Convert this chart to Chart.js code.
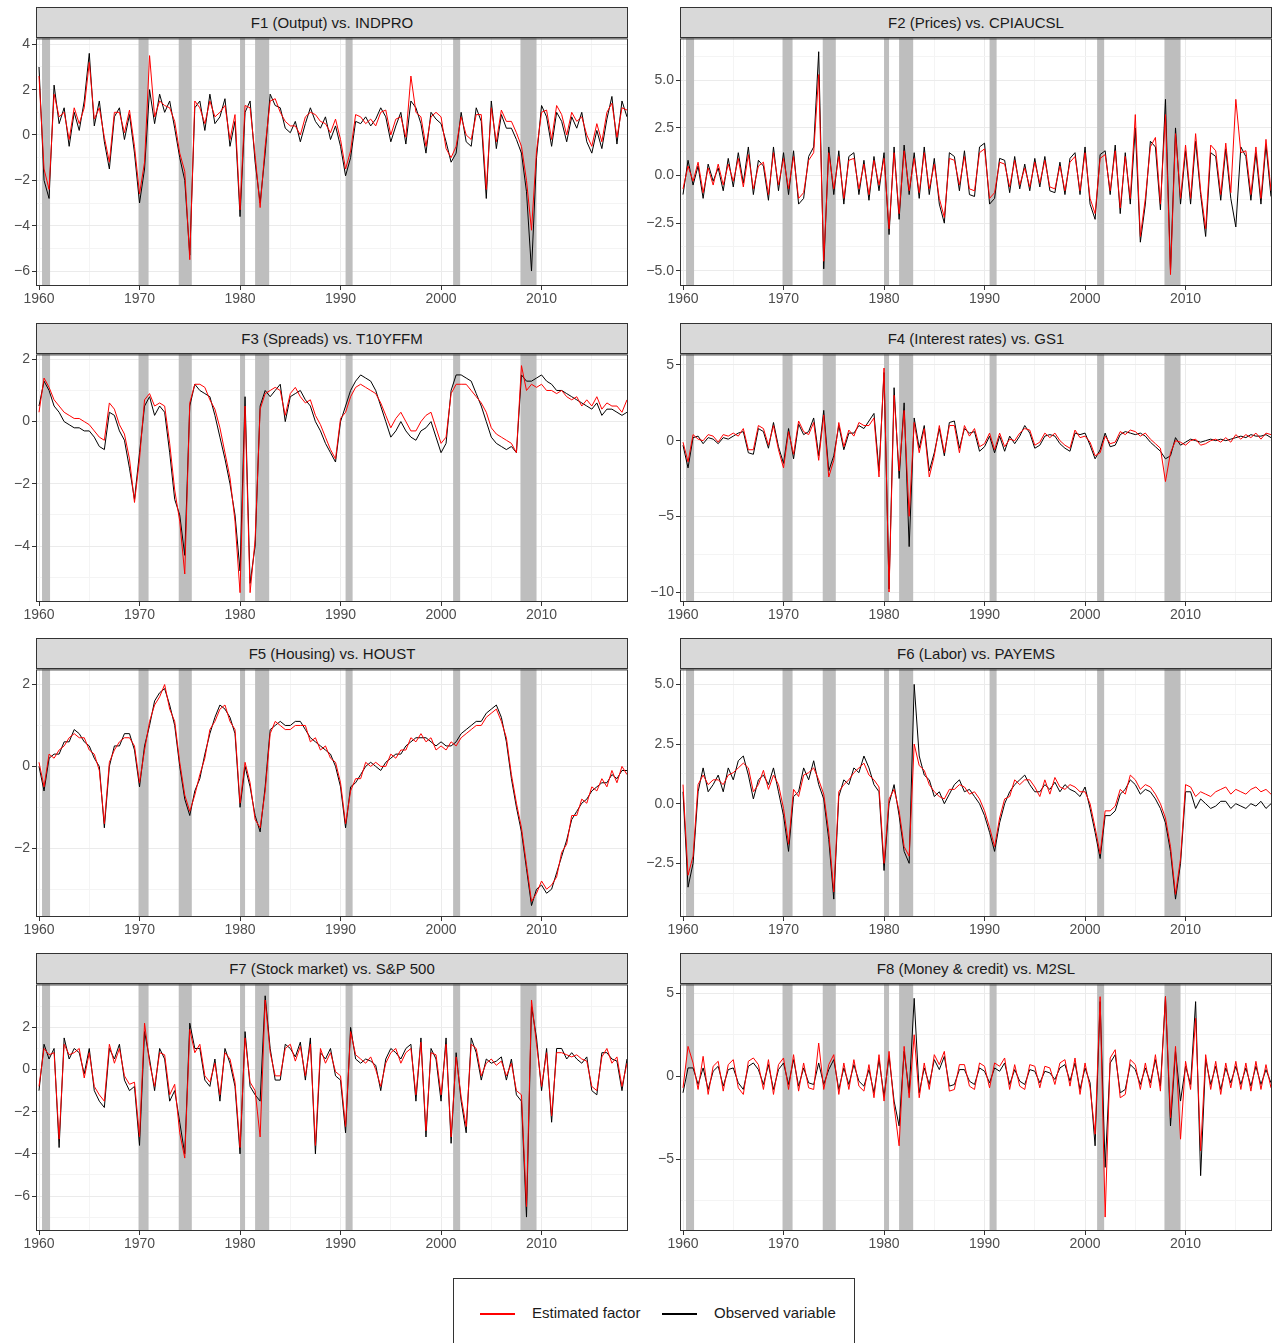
<!DOCTYPE html>
<html>
<head>
<meta charset="utf-8">
<script src="https://cdn.jsdelivr.net/npm/chart.js@4/dist/chart.umd.min.js"></script>
<style>
  body { margin: 0; background: #fff; font-family: "Liberation Sans", Arial, sans-serif; }
  .strip { position: absolute; height: 31px; background: #d9d9d9; border: 1px solid #333;
           box-sizing: border-box; text-align: center; line-height: 30px; font-size: 15px; color: #1a1a1a; }
  canvas { position: absolute; }
  #legend { position: absolute; left: 453px; top: 1278px; width: 402px; height: 70px; border: 1px solid #333;
            box-sizing: border-box; font-size: 15px; color: #1a1a1a; }
  .key { position: absolute; top: 34px; width: 35px; height: 0; border-top: 2px solid; }
  .lab { position: absolute; top: 25px; }
</style>
</head>
<body>
<div id="legend">
  <div class="key" style="left:26px;border-color:#ff0000"></div><div class="lab" style="left:78px">Estimated factor</div>
  <div class="key" style="left:208px;border-color:#000"></div><div class="lab" style="left:260px">Observed variable</div>
</div>
<script>
// half-year steps 1960.0 .. 2018.5
const years = [];
for (let y = 1960; y <= 2018.5; y += 0.5) years.push(y);

const recessions = [[1960.3,1961.1],[1969.9,1970.9],[1973.9,1975.2],[1980.0,1980.5],
                    [1981.5,1982.9],[1990.5,1991.2],[2001.2,2001.9],[2007.9,2009.5]];
const xTicks = [1960,1970,1980,1990,2000,2010];

const titles = ['F1 (Output) vs. INDPRO','F2 (Prices) vs. CPIAUCSL','F3 (Spreads) vs. T10YFFM',
  'F4 (Interest rates) vs. GS1','F5 (Housing) vs. HOUST','F6 (Labor) vs. PAYEMS',
  'F7 (Stock market) vs. S&P 500','F8 (Money & credit) vs. M2SL'];

const f1Obs = [3.0,-2.0,-2.8,2.2,0.5,1.2,-0.5,1.0,0.2,1.5,3.6,0.4,1.5,-0.3,-1.5,0.8,1.2,-0.2,0.9,-0.8,
  -3.0,-1.5,2.0,0.5,1.8,1.0,1.5,0.3,-1.0,-2.0,-5.3,1.2,1.5,0.2,1.8,0.5,0.8,1.6,-0.5,0.6,
  -3.6,1.0,1.5,-1.2,-3.0,-0.8,1.8,1.3,1.2,0.3,0.1,0.6,-0.3,0.5,1.2,0.6,0.3,0.8,-0.2,0.4,
  -0.5,-1.8,-1.0,0.6,0.5,0.8,0.4,0.7,1.2,0.8,-0.3,0.4,1.0,-0.4,1.5,1.2,0.5,-0.8,1.0,0.7,
  0.5,-0.3,-1.2,-0.8,1.0,-0.3,-0.5,1.2,0.6,-2.8,1.5,-0.6,0.9,0.3,0.3,-0.2,-0.8,-2.5,-6.0,-1.0,
  1.3,0.8,-0.5,1.0,0.6,-0.3,0.8,0.3,1.0,-0.3,-0.8,0.2,-0.6,0.7,1.7,-0.4,1.5,0.8];
const f1Est = [2.6,-1.5,-2.4,1.8,0.8,1.0,-0.2,1.2,0.5,1.2,3.2,0.7,1.2,-0.1,-1.2,1.0,1.0,0.1,1.1,-0.5,
  -2.6,-1.2,3.5,0.8,1.5,1.3,1.2,0.6,-0.8,-1.6,-5.5,1.5,1.2,0.5,1.5,0.8,1.0,1.3,-0.2,0.9,
  -3.3,1.3,1.2,-0.9,-3.2,-0.5,1.5,1.6,1.0,0.6,0.4,0.4,0.0,0.8,1.0,0.9,0.6,0.5,0.1,0.7,
  -0.2,-1.5,-0.7,0.9,0.8,0.5,0.7,0.4,1.0,1.1,0.0,0.7,0.8,-0.1,2.6,1.0,0.8,-0.5,0.8,1.0,
  0.8,-0.6,-1.0,-0.5,0.8,0.0,-0.2,0.9,0.9,-2.4,1.2,-0.3,1.1,0.6,0.6,0.1,-0.5,-2.0,-4.2,-0.7,
  1.0,1.1,-0.2,1.3,0.9,0.0,1.0,0.6,0.8,0.0,-0.5,0.5,-0.3,1.0,1.4,-0.1,1.2,1.1];

const f2Obs = [-1.0,0.8,-0.5,0.5,-1.2,0.6,-0.3,0.4,-0.8,0.9,-0.6,1.2,-0.4,1.5,-1.0,0.8,0.5,-1.3,1.5,-0.8,
  1.2,-1.0,1.3,-1.5,-1.2,1.0,1.5,6.5,-4.9,1.5,-1.0,1.3,-1.5,1.0,1.2,-1.0,0.8,-1.3,1.0,-0.8,
  1.2,-3.1,1.5,-2.3,1.6,-1.0,1.2,-1.2,1.5,-1.0,0.9,-1.5,-2.5,1.2,1.0,-0.8,1.3,-1.0,-1.1,1.5,
  1.7,-1.5,-1.2,0.9,0.8,-0.9,1.0,-0.7,0.6,-0.8,0.9,-0.6,1.0,-0.8,-0.9,0.7,-1.0,0.9,1.2,-1.0,
  1.5,-1.5,-2.3,1.1,1.3,-1.0,1.6,-2.0,1.2,-1.5,2.5,-3.5,-1.5,1.8,1.5,-1.8,4.0,-5.0,2.5,-1.5,
  1.3,-1.5,1.8,-1.0,-3.2,1.2,1.0,-1.3,1.4,-1.2,-2.7,1.5,1.0,-1.3,1.2,-1.5,1.6,-1.1];
const f2Est = [-0.7,0.5,-0.3,0.7,-0.9,0.4,-0.5,0.6,-0.5,0.6,-0.3,0.9,-0.6,1.1,-0.7,0.5,0.7,-1.0,1.2,-0.5,
  0.9,-0.7,1.0,-1.2,-0.9,0.8,1.2,5.3,-4.5,1.2,-0.7,1.0,-1.2,0.8,0.9,-0.7,0.6,-1.0,0.8,-0.5,
  0.9,-2.8,1.2,-2.0,1.3,-0.8,0.9,-0.9,1.2,-0.7,0.6,-1.2,-2.2,0.9,0.8,-0.5,1.0,-0.7,-0.8,1.2,
  1.4,-1.2,-0.9,0.7,0.6,-0.6,0.8,-0.5,0.4,-0.6,0.7,-0.4,0.8,-0.6,-0.7,0.5,-0.8,0.7,1.0,-0.8,
  1.2,-1.2,-2.0,0.9,1.1,-0.8,1.3,-1.7,1.0,-1.2,3.2,-3.2,-1.2,1.5,2.0,-1.5,3.2,-5.2,2.2,-1.2,
  1.6,-1.2,2.2,-0.8,-2.8,1.6,1.3,-1.0,1.7,-0.9,4.0,1.2,1.3,-1.0,1.5,-1.2,1.9,-0.8];

const f3Obs = [0.5,1.3,1.0,0.5,0.3,0.0,-0.1,-0.2,-0.2,-0.3,-0.3,-0.5,-0.8,-0.9,0.3,0.2,-0.3,-0.6,-1.5,-2.5,
  -1.0,0.5,0.8,0.2,0.5,0.3,-1.0,-2.5,-3.0,-4.3,0.5,1.2,1.0,0.9,0.8,0.2,-0.5,-1.2,-2.0,-3.0,
  -4.8,0.8,-5.2,-4.0,0.5,1.0,0.8,1.0,1.2,0.0,0.8,0.9,1.0,0.7,0.5,0.0,-0.3,-0.7,-1.0,-1.3,
  0.0,0.5,1.0,1.3,1.5,1.4,1.3,1.0,0.5,0.0,-0.5,-0.3,0.0,-0.3,-0.5,-0.6,-0.3,-0.2,0.0,-0.5,
  -1.0,-0.7,1.0,1.5,1.5,1.4,1.3,0.9,0.5,0.0,-0.5,-0.7,-0.8,-0.9,-0.8,-1.0,1.5,1.3,1.3,1.4,
  1.5,1.3,1.2,1.0,1.0,0.9,0.8,0.7,0.6,0.5,0.4,0.6,0.2,0.4,0.4,0.3,0.2,0.3];
const f3Est = [0.3,1.4,1.1,0.7,0.5,0.3,0.2,0.1,0.1,0.0,-0.1,-0.3,-0.5,-0.6,0.6,0.4,-0.1,-0.4,-1.2,-2.6,
  -1.2,0.7,0.9,0.5,0.6,0.5,-0.7,-2.2,-3.2,-4.9,0.6,1.2,1.2,1.1,0.7,0.4,-0.2,-1.0,-1.8,-3.2,
  -5.5,0.5,-5.5,-3.8,0.4,0.9,1.0,1.1,1.0,0.2,0.9,1.1,0.8,0.6,0.7,0.2,-0.1,-0.5,-0.9,-1.2,
  0.1,0.3,0.8,1.1,1.2,1.1,1.0,0.9,0.6,0.2,-0.2,0.1,0.3,0.0,-0.3,-0.3,0.0,0.2,0.3,-0.2,
  -0.7,-0.5,0.9,1.2,1.2,1.2,1.0,0.8,0.6,0.3,-0.2,-0.4,-0.5,-0.6,-0.7,-1.0,1.8,1.0,1.2,1.1,
  1.2,1.0,1.0,0.9,1.0,0.8,0.7,0.8,0.5,0.7,0.5,0.8,0.4,0.6,0.5,0.5,0.3,0.7];

const f4Obs = [-0.3,-1.8,0.2,0.3,-0.2,0.2,0.1,-0.2,0.2,0.1,0.3,0.5,0.6,-0.8,-0.9,0.8,0.6,-0.5,1.2,-0.4,
  -1.5,0.8,-1.2,1.1,0.4,0.6,1.5,-1.0,2.0,-2.0,-1.0,1.0,-0.6,0.5,0.5,1.0,0.8,1.3,1.8,-2.0,
  4.5,-9.8,3.5,-2.5,2.5,-7.0,1.5,-0.5,1.0,-2.0,-0.8,0.8,-1.0,1.2,1.3,-0.5,0.8,0.5,0.6,-0.7,
  -0.4,0.3,-0.8,0.3,-0.7,0.3,-0.2,0.3,1.0,0.5,-0.5,-0.3,0.3,0.4,0.3,-0.2,-0.5,-0.7,0.5,0.4,
  0.5,-0.3,-1.2,-0.6,0.5,-0.4,-0.3,0.4,0.6,0.5,0.4,0.5,0.3,-0.1,-0.4,-0.7,-1.2,-1.0,0.2,-0.3,
  -0.1,0.1,0.0,-0.1,0.0,0.1,0.0,0.1,0.0,0.1,0.2,0.3,0.2,0.4,0.3,0.3,0.4,0.2];
const f4Est = [-0.1,-1.4,0.4,0.1,0.0,0.4,0.3,-0.1,0.4,0.3,0.5,0.3,0.8,-0.6,-0.6,1.0,0.8,-0.3,1.0,-0.6,
  -1.8,0.6,-0.9,1.3,0.6,0.4,1.2,-1.3,1.7,-2.4,-1.3,1.2,-0.4,0.7,0.3,1.2,1.0,1.0,1.5,-2.4,
  4.8,-10.0,3.0,-2.0,2.0,-5.0,1.2,-0.8,0.8,-2.4,-1.0,1.0,-0.8,1.0,1.0,-0.8,1.0,0.3,0.8,-0.4,
  -0.2,0.5,-0.6,0.5,-0.4,0.1,0.0,0.5,0.8,0.7,-0.3,-0.1,0.5,0.2,0.5,0.0,-0.3,-0.5,0.7,0.2,
  0.3,-0.1,-1.0,-0.8,0.3,-0.2,-0.1,0.6,0.4,0.7,0.6,0.3,0.5,0.1,-0.2,-0.5,-2.7,-0.8,0.0,-0.1,
  -0.3,0.0,0.1,-0.3,-0.2,0.0,0.1,-0.1,0.2,-0.1,0.4,0.1,0.4,0.2,0.5,0.1,0.5,0.4];

const f5Obs = [0.0,-0.6,0.2,0.3,0.3,0.6,0.6,0.9,0.8,0.6,0.5,0.2,0.0,-1.5,0.0,0.5,0.5,0.8,0.8,0.4,
  -0.5,0.5,1.0,1.6,1.8,1.9,1.5,1.0,0.0,-0.8,-1.2,-0.6,-0.3,0.3,0.8,1.2,1.5,1.4,1.2,0.8,
  -1.0,0.0,-0.5,-1.2,-1.6,-0.5,0.9,1.0,1.1,1.0,1.0,1.1,1.1,0.9,0.7,0.6,0.5,0.4,0.3,0.0,
  -0.5,-1.5,-0.5,-0.4,-0.2,0.0,0.1,0.0,-0.1,0.1,0.2,0.3,0.3,0.5,0.6,0.7,0.7,0.7,0.6,0.5,
  0.6,0.5,0.5,0.6,0.8,0.9,1.0,1.1,1.1,1.3,1.4,1.5,1.2,0.6,-0.3,-1.0,-1.6,-2.5,-3.4,-3.0,
  -2.9,-3.1,-3.0,-2.6,-2.2,-1.8,-1.3,-1.1,-0.9,-0.8,-0.6,-0.5,-0.4,-0.4,-0.2,-0.3,-0.1,-0.1];
const f5Est = [0.1,-0.5,0.3,0.2,0.4,0.5,0.7,0.8,0.7,0.7,0.4,0.3,-0.1,-1.4,0.1,0.4,0.6,0.7,0.7,0.5,
  -0.4,0.4,1.1,1.5,1.7,2.0,1.4,1.1,0.1,-0.7,-1.1,-0.7,-0.2,0.2,0.9,1.1,1.4,1.5,1.1,0.9,
  -0.9,0.1,-0.4,-1.3,-1.5,-0.6,0.8,1.1,1.0,0.9,0.9,1.0,1.0,1.0,0.6,0.7,0.4,0.5,0.2,0.1,
  -0.4,-1.4,-0.6,-0.3,-0.3,0.1,0.0,0.1,0.0,0.0,0.3,0.2,0.4,0.4,0.7,0.6,0.8,0.6,0.7,0.4,
  0.5,0.4,0.6,0.5,0.7,0.8,0.9,1.0,1.0,1.2,1.3,1.4,1.1,0.7,-0.2,-0.9,-1.5,-2.4,-3.3,-3.1,
  -2.8,-3.0,-2.9,-2.7,-2.1,-1.9,-1.2,-1.2,-0.8,-0.9,-0.5,-0.6,-0.3,-0.5,-0.1,-0.4,0.0,-0.2];

const f6Obs = [0.5,-3.5,-2.5,0.5,1.5,0.5,0.8,1.2,0.5,1.5,1.0,1.8,2.0,1.2,0.2,1.0,1.2,0.8,1.5,0.5,
  -0.5,-2.0,0.3,0.5,1.5,1.0,1.8,0.8,0.2,-1.5,-4.0,0.3,1.0,0.8,1.5,1.3,2.0,1.5,0.8,0.5,
  -2.8,0.0,0.8,-0.5,-2.0,-2.5,5.0,2.0,1.2,1.0,0.3,0.5,0.0,0.4,0.8,1.0,0.5,0.6,0.3,0.0,
  -0.5,-1.2,-2.0,-0.8,0.0,0.5,0.8,1.0,1.2,0.8,0.5,0.5,0.8,0.6,0.9,0.5,0.8,0.6,0.5,0.3,
  0.7,-0.2,-1.2,-2.3,-0.5,-0.5,-0.3,0.4,0.6,1.0,0.8,0.4,0.6,0.5,0.2,-0.2,-0.8,-2.0,-4.0,-2.5,
  0.5,0.5,-0.2,0.2,0.0,-0.2,-0.1,0.1,0.1,-0.2,0.0,-0.1,-0.2,0.0,-0.1,0.1,-0.2,0.0];
const f6Est = [0.8,-3.0,-2.2,0.8,1.2,0.8,1.0,1.0,0.8,1.2,1.3,1.5,1.7,1.5,0.5,0.8,1.4,0.6,1.2,0.8,
  -0.2,-1.7,0.6,0.3,1.2,1.3,1.5,1.0,0.4,-1.2,-3.7,0.5,0.8,1.0,1.3,1.5,1.7,1.2,1.0,0.7,
  -2.5,0.2,0.6,-0.3,-1.8,-2.2,2.5,1.6,1.4,0.8,0.5,0.3,0.2,0.6,0.6,0.8,0.7,0.4,0.5,0.2,
  -0.3,-1.0,-1.8,-0.6,0.2,0.3,1.0,0.8,1.0,1.0,0.7,0.3,1.0,0.4,1.1,0.7,0.6,0.8,0.7,0.5,
  0.5,0.0,-1.0,-2.1,-0.3,-0.3,-0.1,0.6,0.4,1.2,1.0,0.6,0.8,0.7,0.4,0.0,-0.6,-1.8,-3.8,-2.3,
  0.8,0.7,0.3,0.5,0.4,0.3,0.5,0.6,0.7,0.4,0.6,0.5,0.4,0.6,0.7,0.5,0.6,0.4];

const f7Obs = [-1.0,1.2,0.5,1.0,-3.7,1.5,0.5,1.0,0.8,-0.2,1.0,-1.0,-1.5,-1.8,1.0,0.5,1.2,-0.5,-1.0,-0.8,
  -3.6,1.8,0.5,-1.0,1.0,0.5,-1.5,-1.0,-2.5,-4.0,2.2,1.0,1.0,-0.5,-0.8,0.5,-1.5,1.0,0.3,-0.8,
  -4.0,1.8,-0.8,-1.2,-1.5,3.5,1.0,-0.5,-0.5,1.2,1.0,0.6,1.3,-0.5,1.5,-4.0,0.8,0.5,1.0,-0.3,
  -0.5,-3.0,2.0,0.5,0.3,0.5,0.4,0.2,-1.0,0.5,1.0,0.8,0.5,1.0,1.2,-1.5,1.5,-3.2,1.0,0.5,
  -1.5,1.5,-3.5,0.8,-1.5,-3.0,1.5,0.8,-0.5,0.5,0.3,0.4,0.6,-0.5,0.5,-1.2,-1.5,-7.0,3.0,1.5,
  -1.0,1.0,-2.5,1.0,1.0,0.5,0.8,0.5,0.3,0.6,-1.0,-1.2,0.8,0.8,0.5,0.4,-1.0,0.5];
const f7Est = [-0.8,1.0,0.7,0.8,-3.3,1.2,0.7,0.8,1.0,-0.4,0.8,-0.8,-1.2,-1.5,1.2,0.3,1.0,-0.3,-0.7,-0.6,
  -3.2,2.2,0.3,-0.8,0.8,0.7,-1.2,-0.7,-3.0,-4.2,1.9,0.8,1.2,-0.3,-0.6,0.3,-1.2,0.8,0.5,-0.6,
  -3.7,1.5,-0.6,-1.0,-3.2,3.3,0.8,-0.3,-0.3,1.0,1.2,0.4,1.1,-0.3,1.2,-3.6,1.0,0.3,0.8,-0.1,
  -0.3,-2.7,1.8,0.7,0.5,0.3,0.6,0.0,-0.8,0.3,0.8,1.0,0.3,0.8,1.0,-1.2,1.3,-2.9,0.8,0.7,
  -1.2,1.2,-3.2,0.6,-1.3,-2.7,1.2,1.0,-0.3,0.3,0.5,0.2,0.4,-0.3,0.3,-1.0,-1.2,-6.5,3.3,1.2,
  -0.8,0.8,-2.2,0.8,0.8,0.7,0.6,0.7,0.5,0.4,-0.8,-1.0,0.6,1.0,0.3,0.6,-0.8,0.3];

const f8Obs = [-1.0,0.5,0.5,-0.5,0.5,-0.8,0.3,0.6,-0.6,0.4,0.5,-0.4,-0.8,0.6,0.8,0.4,-0.5,0.7,-0.8,0.4,
  0.8,-0.5,1.0,-0.6,0.5,-0.4,-0.5,0.8,-0.5,0.4,1.0,-0.8,0.5,-0.5,0.7,-0.3,-0.6,0.4,-1.0,1.0,
  -1.2,1.2,-1.5,-3.0,1.5,-1.0,4.7,-1.0,0.5,-0.5,1.0,0.4,1.2,-0.6,-0.5,0.4,0.4,-0.3,-0.5,0.5,
  0.3,-0.4,0.5,0.3,0.8,-0.5,0.4,-0.3,-0.5,0.4,0.3,-0.4,0.3,0.2,-0.2,0.5,0.7,-0.3,0.8,-0.8,
  0.5,-0.4,-4.2,4.5,-5.5,0.8,1.3,-1.0,-0.8,0.7,0.4,-0.5,0.5,-0.4,1.0,-0.6,4.8,-3.0,1.5,-1.5,
  0.6,-0.5,4.5,-6.0,1.0,-0.5,0.6,-0.8,0.5,-0.4,0.6,-0.5,0.5,-0.6,0.6,-0.5,0.4,-0.4];
const f8Est = [-0.7,1.8,0.8,-0.8,1.2,-1.1,0.6,0.9,-0.9,0.7,1.0,-0.7,-1.1,0.9,1.1,0.7,-0.8,1.0,-1.1,0.7,
  1.1,-0.8,1.3,-0.9,0.8,-0.7,-0.8,2.0,-0.8,0.7,1.3,-1.1,0.8,-0.8,1.0,-0.6,-0.9,0.7,-1.3,1.3,
  -1.5,1.5,-1.8,-4.2,1.8,-1.3,2.5,-1.3,0.8,-0.8,1.3,0.7,1.5,-0.9,-0.8,0.7,0.7,-0.6,-0.8,0.8,
  0.6,-0.7,0.8,0.6,1.1,-0.8,0.7,-0.6,-0.8,0.7,0.6,-0.7,0.6,0.5,-0.5,0.8,1.0,-0.6,1.1,-1.1,
  0.8,-0.7,-3.5,4.8,-8.5,1.1,1.6,-1.3,-1.1,1.0,0.7,-0.8,0.8,-0.7,1.3,-0.9,4.8,-2.5,1.8,-3.8,
  0.9,-0.8,3.5,-4.5,1.3,-0.8,0.9,-1.1,0.8,-0.7,0.9,-0.8,0.8,-0.9,0.9,-0.8,0.7,-0.7];

const panels = [
  { est: f1Est, obs: f1Obs, ymin: -6.66, ymax: 4.26, ticks: [-6,-4,-2,0,2,4], step: 1, fmt: v => v },
  { est: f2Est, obs: f2Obs, ymin: -5.8, ymax: 7.2, ticks: [-5,-2.5,0,2.5,5], step: 1.25, fmt: v => v.toFixed(1) },
  { est: f3Est, obs: f3Obs, ymin: -5.8, ymax: 2.16, ticks: [-4,-2,0,2], step: 1, fmt: v => v },
  { est: f4Est, obs: f4Obs, ymin: -10.66, ymax: 5.7, ticks: [-10,-5,0,5], step: 2.5, fmt: v => v },
  { est: f5Est, obs: f5Obs, ymin: -3.68, ymax: 2.37, ticks: [-2,0,2], step: 1, fmt: v => v },
  { est: f6Est, obs: f6Obs, ymin: -4.75, ymax: 5.63, ticks: [-2.5,0,2.5,5], step: 1.25, fmt: v => v.toFixed(1) },
  { est: f7Est, obs: f7Obs, ymin: -7.66, ymax: 4.04, ticks: [-6,-4,-2,0,2], step: 1, fmt: v => v },
  { est: f8Est, obs: f8Obs, ymin: -9.34, ymax: 5.54, ticks: [-5,0,5], step: 2.5, fmt: v => v }
];

const rowTop = [7, 323, 638, 953];
const rowPlotH = [248, 248, 248, 247];
const PAD = 10;

const decor = {
  id: 'decor',
  beforeDatasetsDraw(chart) {
    const { ctx, chartArea: a, scales: { x } } = chart;
    ctx.save();
    ctx.fillStyle = '#bebebe';
    recessions.forEach(([s, e]) => {
      const x0 = x.getPixelForValue(s), x1 = x.getPixelForValue(e);
      ctx.fillRect(x0, a.top, x1 - x0, a.bottom - a.top);
    });
    ctx.restore();
  },
  afterDraw(chart) {
    const { ctx, chartArea: a } = chart;
    ctx.save();
    ctx.strokeStyle = '#333';
    ctx.lineWidth = 1;
    ctx.strokeRect(a.left + 0.5, a.top + 0.5, a.right - a.left - 1, a.bottom - a.top - 1);
    ctx.restore();
  }
};

panels.forEach((p, i) => {
  const col = i % 2, row = Math.floor(i / 2);
  const plotLeft = col ? 680 : 36, plotRight = col ? 1272 : 628;
  const top = rowTop[row];

  const strip = document.createElement('div');
  strip.className = 'strip';
  strip.textContent = titles[i];
  strip.style.left = plotLeft + 'px';
  strip.style.top = top + 'px';
  strip.style.width = (plotRight - plotLeft) + 'px';
  document.body.appendChild(strip);

  const cv = document.createElement('canvas');
  const w = plotRight - plotLeft + 40, h = rowPlotH[row] + 26 + PAD;
  cv.width = w; cv.height = h;
  cv.style.left = (plotLeft - 36) + 'px';
  cv.style.top = (top + 31 - PAD) + 'px';
  cv.style.width = w + 'px'; cv.style.height = h + 'px';
  document.body.appendChild(cv);

  const yGrid = [];
  for (let v = Math.ceil(p.ymin / p.step) * p.step; v <= p.ymax; v += p.step) yGrid.push(+v.toFixed(3));
  const xGrid = [1960,1965,1970,1975,1980,1985,1990,1995,2000,2005,2010,2015];

  new Chart(cv, {
    type: 'line',
    data: {
      labels: years,
      datasets: [
        { data: years.map((y, k) => ({ x: y, y: p.est[k] })), borderColor: '#ff0000', borderWidth: 1, pointRadius: 0 },
        { data: years.map((y, k) => ({ x: y, y: p.obs[k] })), borderColor: '#000000', borderWidth: 1, pointRadius: 0 }
      ]
    },
    options: {
      responsive: false, animation: false,
      layout: { padding: { top: 0, right: 4, left: 0, bottom: 0 } },
      plugins: { legend: { display: false }, tooltip: { enabled: false } },
      scales: {
        x: {
          type: 'linear', min: 1959.7, max: 2018.6,
          afterBuildTicks: s => { s.ticks = xGrid.map(v => ({ value: v })); },
          afterFit: s => { s.height = 26; },
          grid: { color: c => c.tick && xTicks.includes(c.tick.value) ? '#ebebeb' : '#f4f4f4',
                  tickColor: c => c.tick && xTicks.includes(c.tick.value) ? '#333' : 'rgba(0,0,0,0)', tickLength: 4 },
          border: { display: false },
          ticks: { autoSkip: false, maxRotation: 0, color: '#4d4d4d', font: { size: 14, family: 'Liberation Sans' }, padding: 1,
                   callback: v => xTicks.includes(v) ? String(v) : '' }
        },
        y: {
          min: p.ymin, max: p.ymax,
          afterBuildTicks: s => { s.ticks = yGrid.map(v => ({ value: v })); },
          afterFit: s => { s.width = 36; },
          grid: { color: c => c.tick && p.ticks.includes(c.tick.value) ? '#ebebeb' : '#f4f4f4',
                  tickColor: c => c.tick && p.ticks.includes(c.tick.value) ? '#333' : 'rgba(0,0,0,0)', tickLength: 4 },
          border: { display: false },
          ticks: { autoSkip: false, color: '#4d4d4d', font: { size: 14, family: 'Liberation Sans' }, padding: 2,
                   callback: v => p.ticks.includes(v) ? String(p.fmt(v)).replace('-', '\u2212') : '' }
        }
      }
    },
    plugins: [decor]
  });
});
</script>
</body>
</html>
